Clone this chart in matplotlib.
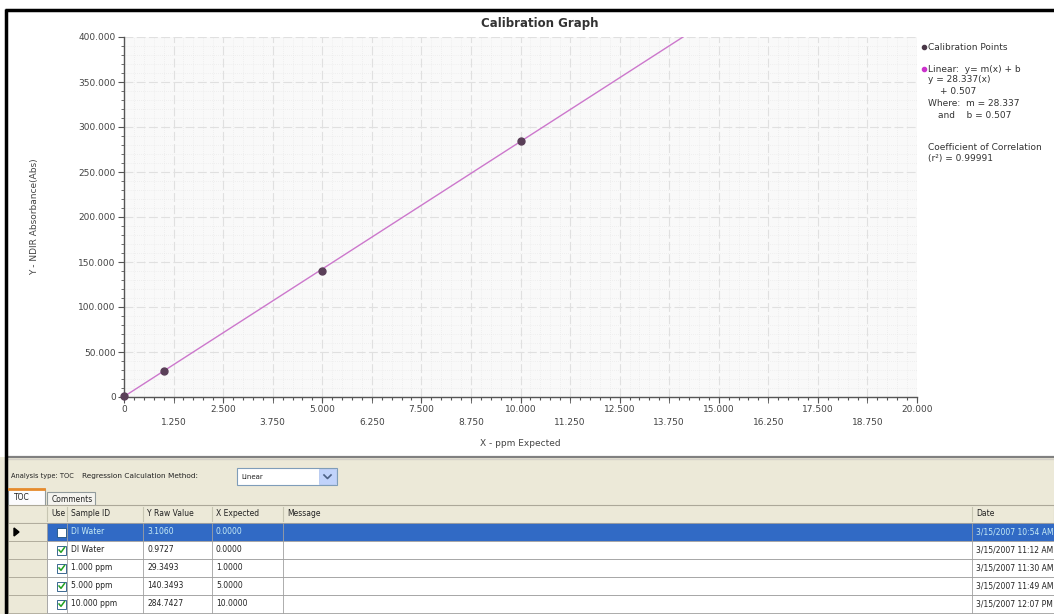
import matplotlib
matplotlib.use("Agg")
import matplotlib.pyplot as plt
import numpy as np
from matplotlib.patches import Rectangle, Polygon
from matplotlib.ticker import MultipleLocator, FixedLocator, FuncFormatter

# Calibration data (from the table)
sample_ids = ["DI Water", "DI Water", "1.000 ppm", "5.000 ppm", "10.000 ppm"]
y_raw = [3.1060, 0.9727, 29.3493, 140.3493, 284.7427]
x_expected = [0.0, 0.0, 1.0, 5.0, 10.0]
used = [False, True, True, True, True]
dates = ["3/15/2007 10:54 AM", "3/15/2007 11:12 AM", "3/15/2007 11:30 AM",
         "3/15/2007 11:49 AM", "3/15/2007 12:07 PM"]

# Regression results
slope = 28.337
intercept = 0.507
r2 = 0.99991

col_names = ["Use", "Sample ID", "Y Raw Value", "X Expected", "Message", "Date"]

W, H = 1054, 614
plt.rcParams["font.family"] = ["DejaVu Sans"]
fig = plt.figure(figsize=(W / 100, H / 100), dpi=100)

# full-figure axes in pixel coords for the window chrome
ui = fig.add_axes([0, 0, 1, 1], zorder=0)
ui.set_xlim(0, W)
ui.set_ylim(H, 0)
ui.axis("off")

beige = "#ece9d8"
# lower panel background
ui.add_patch(Rectangle((0, 457), W, H - 457, color=beige, lw=0))
ui.plot([8, W], [457, 457], color="#808080", lw=1.6)
ui.plot([8, W], [459, 459], color="#d4d0c8", lw=1)

# outer black frame
ui.plot([5.5, 5.5], [9, H], color="black", lw=2.5, solid_capstyle="butt")
ui.plot([5, W], [9.5, 9.5], color="black", lw=2.5, solid_capstyle="butt")

# title / axis labels
ui.text(540, 24, "Calibration Graph", ha="center", va="center", fontsize=8.5,
        fontweight="bold", color="#333333")
ui.text(35, 217, "Y - NDIR Absorbance(Abs)", ha="center", va="center",
        rotation=90, fontsize=6.5, color="#444444")
ui.text(520, 443, "X - ppm Expected", ha="center", va="center", fontsize=6.5,
        color="#444444")

# legend on the right
lx = 924
ui.plot([lx], [47], "o", ms=3, color="#4a3848")
ui.text(lx + 4, 47, "Calibration Points", va="center", fontsize=6.5, color="#333333")
ui.plot([lx], [69], "o", ms=3, color="#cc33cc")
leg_lines = [("Linear:  y= m(x) + b", lx + 4, 69),
             ("y = %.3f(x)" % slope, lx + 4, 80),
             ("+ %.3f" % intercept, lx + 16, 92),
             ("Where:  m = %.3f" % slope, lx + 4, 104),
             ("and    b = %.3f" % intercept, lx + 14, 116),
             ("Coefficient of Correlation", lx + 4, 147),
             ("(r\u00b2) = %.5f" % r2, lx + 4, 159)]
for txt, x, y in leg_lines:
    ui.text(x, y, txt, va="center", fontsize=6.5, color="#333333")

# analysis bar
ui.text(11, 476, "Analysis type: TOC", va="center", fontsize=4.8, color="#222222")
ui.text(82, 476, "Regression Calculation Method:", va="center", fontsize=5.3, color="#222222")
ui.add_patch(Rectangle((237, 468), 100, 17, facecolor="white", edgecolor="#7f9db9", lw=0.8))
ui.text(241, 477, "Linear", va="center", fontsize=5, color="#222222")
ui.add_patch(Rectangle((319, 469), 17, 15, facecolor="#c1d3fb", edgecolor="#b5c8f0", lw=0.6))
ui.plot([324, 327.5, 331], [475, 478.5, 475], color="#4d6185", lw=1.2)

# tabs
ui.add_patch(Rectangle((8, 489), 37, 17, facecolor="#fcfcfe", edgecolor="#919b9c", lw=0.8))
ui.plot([9, 44], [489, 489], color="#e68b2c", lw=2)
ui.text(14, 497, "TOC", va="center", fontsize=5.5, color="#222222")
ui.add_patch(Rectangle((47, 492), 48, 14, facecolor="#f4f3ee", edgecolor="#919b9c", lw=0.8))
ui.text(52, 499, "Comments", va="center", fontsize=5.5, color="#222222")

# table
col_x = [8, 47, 67, 143, 212, 283, 972, W]
header_top, row_h = 505, 18
ui.add_patch(Rectangle((8, header_top), W - 8, row_h, facecolor=beige,
                       edgecolor="#aca899", lw=0.8))
for i, name in enumerate(col_names):
    x0 = col_x[i + 1]
    ui.text(x0 + 4, header_top + row_h / 2, name, va="center", fontsize=5.5, color="#222222")
    ui.plot([x0, x0], [header_top + 2, header_top + row_h - 2], color="#c7c5b2", lw=0.8)

for r in range(len(sample_ids)):
    y0 = header_top + row_h * (r + 1)
    selected = r == 0
    bg = "#316ac5" if selected else "white"
    fg = "#c8ecf5" if selected else "#222222"
    ui.add_patch(Rectangle((8, y0), col_x[1] - 8, row_h, facecolor=beige,
                           edgecolor="#aca899", lw=0.6))
    ui.add_patch(Rectangle((col_x[1], y0), W - col_x[1], row_h, facecolor=bg,
                           edgecolor="#a0a0a0", lw=0.6))
    for x0 in col_x[2:-1]:
        ui.plot([x0, x0], [y0, y0 + row_h], color="#a0a0a0", lw=0.6)
    if selected:
        ui.add_patch(Polygon([[14, y0 + 5], [14, y0 + 13], [19, y0 + 9]], color="black"))
    cy = y0 + row_h / 2
    ui.add_patch(Rectangle((57, cy - 4.5), 9, 9, facecolor="white", edgecolor="#1c5180", lw=0.6))
    if used[r]:
        ui.plot([59, 61, 64.5], [cy, cy + 2.3, cy - 2.5], color="#21a121", lw=1.1)
    cells = [sample_ids[r], "%.4f" % y_raw[r], "%.4f" % x_expected[r], "", dates[r]]
    for j, txt in enumerate(cells):
        ui.text(col_x[j + 2] + 4, cy, txt, va="center", fontsize=5.5, color=fg)

# chart axes
ax_l, ax_t, ax_r, ax_b = 124, 37, 917, 397
ax = fig.add_axes([ax_l / W, 1 - ax_b / H, (ax_r - ax_l) / W, (ax_b - ax_t) / H], zorder=2)
ax.set_facecolor("#f9f9f9")

xs = np.array([0, 20])
ax.plot(xs, slope * xs + intercept, color="#cc77cc", lw=1, zorder=3)
xu = [x for x, u in zip(x_expected, used) if u]
yu = [y for y, u in zip(y_raw, used) if u]
ax.plot(xu, yu, "o", ms=5, color="#5a3f58", zorder=4, clip_on=False)

ax.set_xlim(0, 20)
ax.set_ylim(0, 400)
for s in ["top", "right"]:
    ax.spines[s].set_visible(False)
for s in ["left", "bottom"]:
    ax.spines[s].set_color("#555555")
    ax.spines[s].set_linewidth(1)

fmt = FuncFormatter(lambda v, p: "0" if v == 0 else "%.3f" % v)
ax.xaxis.set_major_locator(MultipleLocator(2.5))
ax.xaxis.set_minor_locator(FixedLocator(np.arange(1.25, 20, 2.5)))
ax.xaxis.set_major_formatter(fmt)
ax.xaxis.set_minor_formatter(fmt)
ax.tick_params(axis="x", which="major", length=4, pad=2, labelsize=6.5, colors="#555555",
               labelcolor="#444444")
ax.tick_params(axis="x", which="minor", length=4, pad=11, labelsize=6.5, colors="#555555",
               labelcolor="#444444")
ax.yaxis.set_major_locator(MultipleLocator(50))
ax.yaxis.set_minor_locator(MultipleLocator(10))
ax.yaxis.set_major_formatter(fmt)
ax.tick_params(axis="y", which="major", length=4, pad=2, labelsize=6.5, colors="#555555",
               labelcolor="#444444")
ax.tick_params(axis="y", which="minor", length=2, colors="#555555")

# fine tick marks along x
sec = ax.secondary_xaxis("bottom")
sec.xaxis.set_major_locator(MultipleLocator(0.25))
sec.tick_params(length=2, labelbottom=False, colors="#555555")
sec.spines["bottom"].set_visible(False)

# grid: dashed major lines, dotted fine lines
ax.set_axisbelow(True)
ax.grid(True, which="major", axis="y", color="#e0e0e0", lw=0.8, ls=(0, (8, 3)))
ax.grid(True, which="both", axis="x", color="#e0e0e0", lw=0.8, ls=(0, (8, 3)))
for v in np.arange(0.25, 20, 0.25):
    if abs(v / 1.25 - round(v / 1.25)) > 1e-6:
        ax.axvline(v, color="#e6e6e6", lw=0.5, ls=(0, (1, 2)), zorder=0.5)
for v in np.arange(10, 400, 10):
    if v % 50:
        ax.axhline(v, color="#e6e6e6", lw=0.5, ls=(0, (1, 2)), zorder=0.5)

fig.savefig("out.png", dpi=100)
